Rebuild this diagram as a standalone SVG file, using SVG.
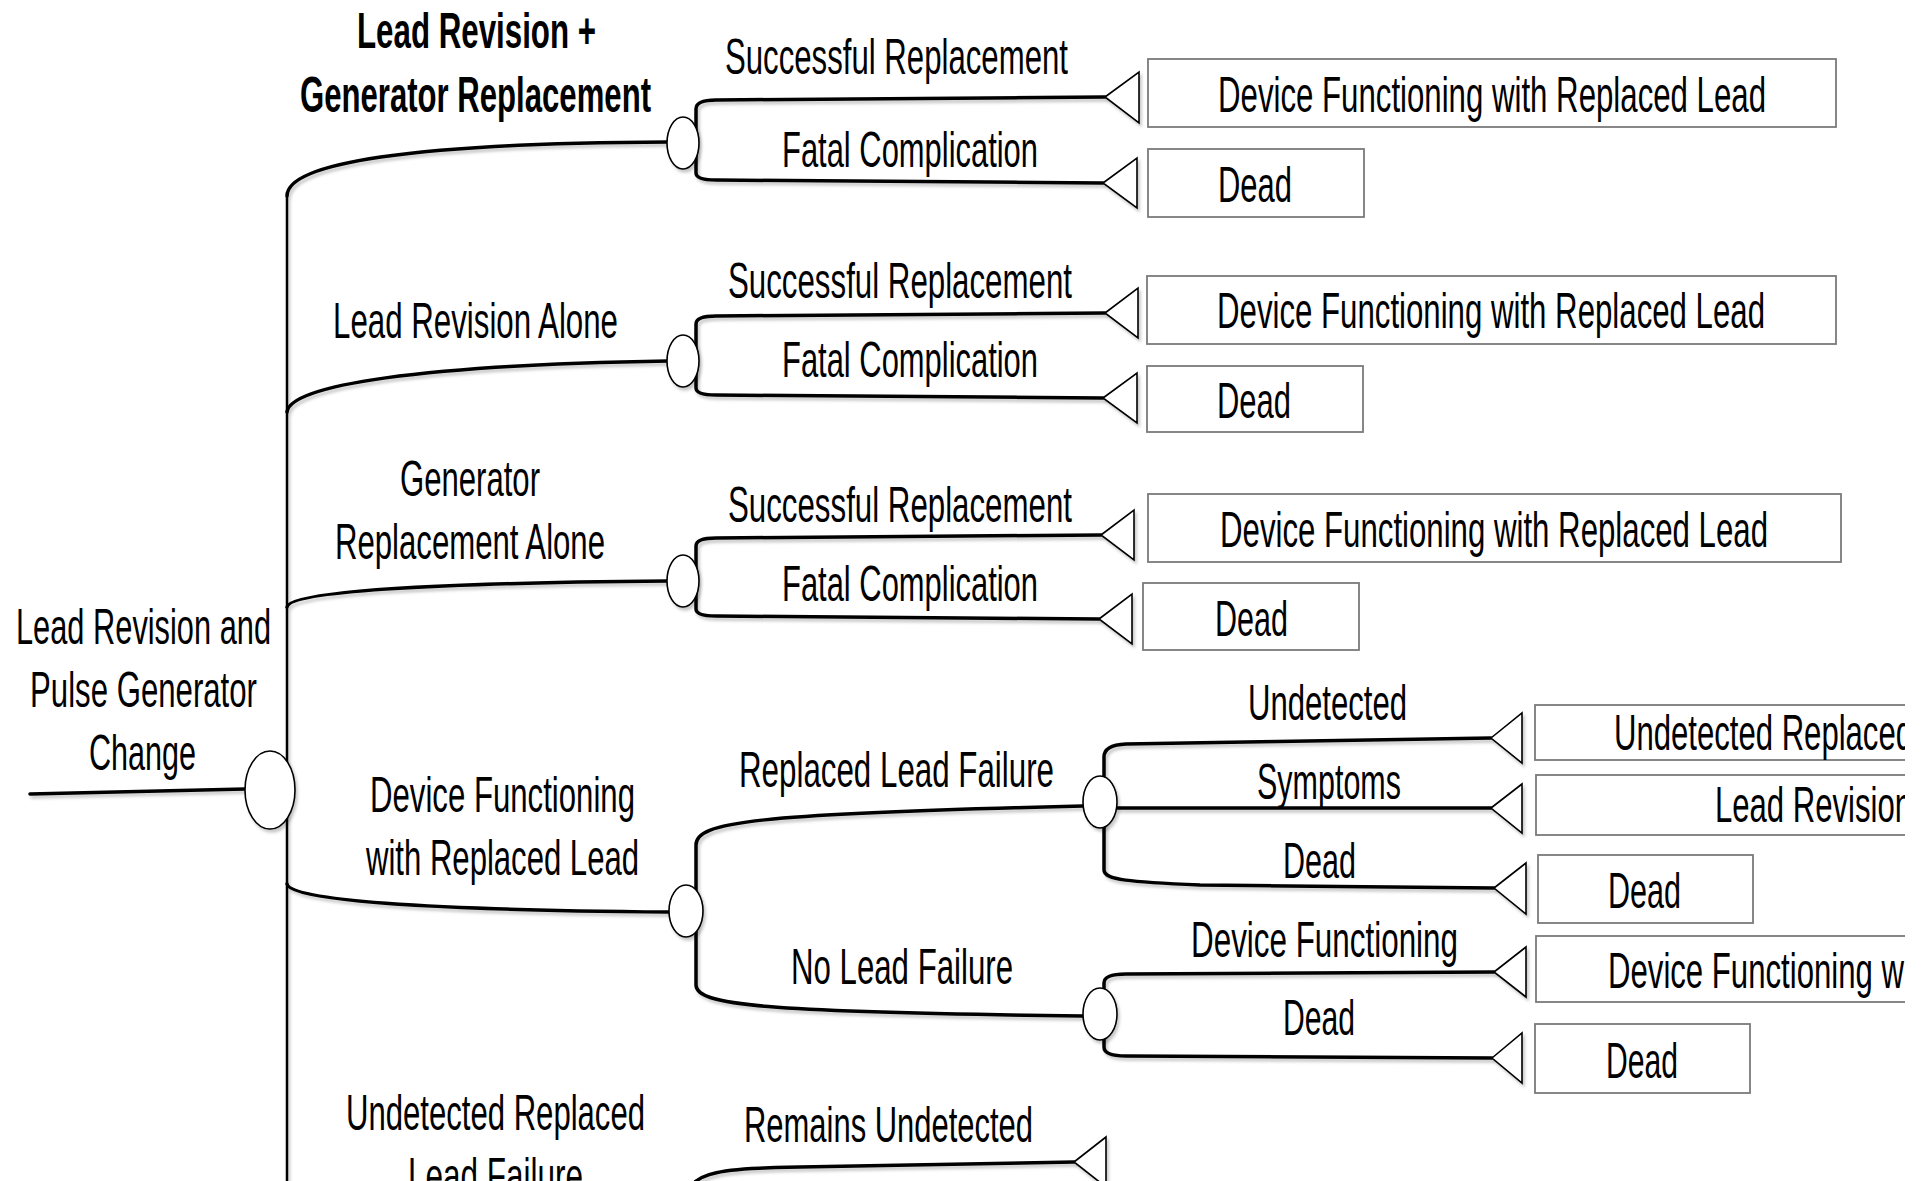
<svg xmlns="http://www.w3.org/2000/svg" width="1932" height="1181" viewBox="0 0 1932 1181">
<style>
  text { font-family: "Liberation Sans", Arial, sans-serif; font-size: 50px; fill: #000; }
  .b { font-weight: bold; }
  .ln { fill: none; stroke: #000; stroke-width: 3.5; stroke-linecap: round; }
  .sp { fill: none; stroke: #000; stroke-width: 2.5; }
  .ch { fill: #fff; stroke: #000; stroke-width: 1.6; }
  .tr { fill: #fff; stroke: #000; stroke-width: 1.6; stroke-linejoin: miter; }
  .bx { fill: #fff; stroke: #7a7a7a; stroke-width: 1.8; }
</style>
<defs>
  <clipPath id="clip"><rect x="0" y="0" width="1905" height="1181"/></clipPath>
  <filter id="sh" filterUnits="userSpaceOnUse" x="0" y="0" width="1932" height="1181">
    <feDropShadow dx="2" dy="3" stdDeviation="1.5" flood-color="#000" flood-opacity="0.22"/>
  </filter>
</defs>
<rect x="0" y="0" width="1932" height="1181" fill="#fff"/>
<g clip-path="url(#clip)">
  <g id="connectors" filter="url(#sh)">
    <path class="ln" d="M30,794 L245,789"/>
    <path class="sp" d="M287,196 V1181"/>
    <path class="ln" d="M287,196 C287,163 410,143 668,142"/>
    <path class="ln" d="M287,412 C290,385 420,365 668,361"/>
    <path class="ln" d="M287,607 C290,592 420,583 668,581"/>
    <path class="ln" d="M287,884 C290,900 420,910 669,912"/>
    <!-- group 1 -->
    <path class="ln" d="M696,143 V109 Q696,100 716,100 L1105,97"/>
    <path class="ln" d="M696,143 V173 Q696,180 716,180 L1103,183"/>
    <!-- group 2 -->
    <path class="ln" d="M696,361 V324 Q696,316 716,316 L1105,313"/>
    <path class="ln" d="M696,361 V388 Q696,395 716,395 L1103,398"/>
    <!-- group 3 -->
    <path class="ln" d="M696,581 V546 Q696,538 716,538 L1101,535"/>
    <path class="ln" d="M696,581 V609 Q696,616 716,616 L1099,619"/>
    <!-- group 4 -->
    <path class="ln" d="M696,911 V845 C696,822 750,814 1083,806"/>
    <path class="ln" d="M696,911 V985 C696,1005 760,1012 1083,1016"/>
    <!-- replaced lead failure -->
    <path class="ln" d="M1104,802 V757 Q1104,745 1126,744 L1491,738"/>
    <path class="ln" d="M1117,808 L1491,808"/>
    <path class="ln" d="M1104,802 V870 C1104,880 1130,882 1200,885 L1494,888"/>
    <!-- no lead failure -->
    <path class="ln" d="M1104,1014 V983 Q1104,974 1126,974 L1494,972"/>
    <path class="ln" d="M1104,1014 V1047 Q1104,1056 1126,1056 L1492,1058"/>
    <!-- group 5 -->
    <path class="ln" d="M689,1195 C689,1172 725,1168 800,1167 L1074,1162"/>
  </g>

  <g id="labels">
    <text class="b" x="357" y="48" textLength="239" lengthAdjust="spacingAndGlyphs">Lead Revision +</text>
    <text class="b" x="300" y="112" textLength="351" lengthAdjust="spacingAndGlyphs">Generator Replacement</text>
    <text x="725" y="74" textLength="343" lengthAdjust="spacingAndGlyphs">Successful Replacement</text>
    <text x="782" y="167" textLength="256" lengthAdjust="spacingAndGlyphs">Fatal Complication</text>
    <text x="333" y="338" textLength="285" lengthAdjust="spacingAndGlyphs">Lead Revision Alone</text>
    <text x="728" y="298" textLength="344" lengthAdjust="spacingAndGlyphs">Successful Replacement</text>
    <text x="782" y="377" textLength="256" lengthAdjust="spacingAndGlyphs">Fatal Complication</text>
    <text x="400" y="496" textLength="140" lengthAdjust="spacingAndGlyphs">Generator</text>
    <text x="335" y="559" textLength="270" lengthAdjust="spacingAndGlyphs">Replacement Alone</text>
    <text x="728" y="522" textLength="344" lengthAdjust="spacingAndGlyphs">Successful Replacement</text>
    <text x="782" y="601" textLength="256" lengthAdjust="spacingAndGlyphs">Fatal Complication</text>
    <text x="16" y="644" textLength="255" lengthAdjust="spacingAndGlyphs">Lead Revision and</text>
    <text x="30" y="707" textLength="227" lengthAdjust="spacingAndGlyphs">Pulse Generator</text>
    <text x="89" y="770" textLength="107" lengthAdjust="spacingAndGlyphs">Change</text>
    <text x="370" y="812" textLength="265" lengthAdjust="spacingAndGlyphs">Device Functioning</text>
    <text x="366" y="875" textLength="273" lengthAdjust="spacingAndGlyphs">with Replaced Lead</text>
    <text x="739" y="787" textLength="315" lengthAdjust="spacingAndGlyphs">Replaced Lead Failure</text>
    <text x="791" y="984" textLength="222" lengthAdjust="spacingAndGlyphs">No Lead Failure</text>
    <text x="1248" y="720" textLength="159" lengthAdjust="spacingAndGlyphs">Undetected</text>
    <text x="1257" y="799" textLength="144" lengthAdjust="spacingAndGlyphs">Symptoms</text>
    <text x="1283" y="878" textLength="73" lengthAdjust="spacingAndGlyphs">Dead</text>
    <text x="1191" y="957" textLength="267" lengthAdjust="spacingAndGlyphs">Device Functioning</text>
    <text x="1283" y="1035" textLength="72" lengthAdjust="spacingAndGlyphs">Dead</text>
    <text x="346" y="1130" textLength="299" lengthAdjust="spacingAndGlyphs">Undetected Replaced</text>
    <text x="408" y="1193" textLength="175" lengthAdjust="spacingAndGlyphs">Lead Failure</text>
    <text x="744" y="1142" textLength="289" lengthAdjust="spacingAndGlyphs">Remains Undetected</text>
  </g>

  <g id="chance-root" filter="url(#sh)"><ellipse class="ch" cx="270" cy="790" rx="25" ry="39"/></g>
  <g id="chance-revision-generator" filter="url(#sh)"><ellipse class="ch" cx="683" cy="143" rx="16" ry="26"/></g>
  <g id="chance-revision-alone" filter="url(#sh)"><ellipse class="ch" cx="683" cy="361" rx="16" ry="26"/></g>
  <g id="chance-generator-alone" filter="url(#sh)"><ellipse class="ch" cx="683" cy="581" rx="16" ry="26"/></g>
  <g id="chance-device-functioning" filter="url(#sh)"><ellipse class="ch" cx="686" cy="911" rx="17" ry="26"/></g>
  <g id="chance-replaced-lead-failure" filter="url(#sh)"><ellipse class="ch" cx="1100" cy="802" rx="17" ry="26"/></g>
  <g id="chance-no-lead-failure" filter="url(#sh)"><ellipse class="ch" cx="1100" cy="1014" rx="17" ry="26"/></g>

  <g id="term-1a" filter="url(#sh)"><polygon class="tr" points="1105,97 1139,72 1139,123"/></g>
  <g id="term-1b" filter="url(#sh)"><polygon class="tr" points="1103,183 1137,158 1137,208"/></g>
  <g id="term-2a" filter="url(#sh)"><polygon class="tr" points="1105,313 1138,288 1138,338"/></g>
  <g id="term-2b" filter="url(#sh)"><polygon class="tr" points="1103,398 1137,373 1137,423"/></g>
  <g id="term-3a" filter="url(#sh)"><polygon class="tr" points="1101,535 1134,510 1134,560"/></g>
  <g id="term-3b" filter="url(#sh)"><polygon class="tr" points="1099,619 1132,594 1132,644"/></g>
  <g id="term-5a" filter="url(#sh)"><polygon class="tr" points="1491,738 1522,713 1522,763"/></g>
  <g id="term-5b" filter="url(#sh)"><polygon class="tr" points="1491,808 1522,784 1522,833"/></g>
  <g id="term-5c" filter="url(#sh)"><polygon class="tr" points="1494,888 1526,863 1526,914"/></g>
  <g id="term-6a" filter="url(#sh)"><polygon class="tr" points="1494,972 1526,947 1526,997"/></g>
  <g id="term-6b" filter="url(#sh)"><polygon class="tr" points="1492,1058 1522,1033 1522,1083"/></g>
  <g id="term-7a" filter="url(#sh)"><polygon class="tr" points="1074,1162 1106,1137 1106,1187"/></g>

  <g id="out-1a"><rect class="bx" x="1148" y="59" width="688" height="68"/><text x="1218" y="112" textLength="548" lengthAdjust="spacingAndGlyphs">Device Functioning with Replaced Lead</text></g>
  <g id="out-1b"><rect class="bx" x="1148" y="149" width="216" height="68"/><text x="1218" y="202" textLength="74" lengthAdjust="spacingAndGlyphs">Dead</text></g>
  <g id="out-2a"><rect class="bx" x="1147" y="276" width="689" height="68"/><text x="1217" y="328" textLength="548" lengthAdjust="spacingAndGlyphs">Device Functioning with Replaced Lead</text></g>
  <g id="out-2b"><rect class="bx" x="1147" y="366" width="216" height="66"/><text x="1217" y="418" textLength="74" lengthAdjust="spacingAndGlyphs">Dead</text></g>
  <g id="out-3a"><rect class="bx" x="1148" y="494" width="693" height="68"/><text x="1220" y="547" textLength="548" lengthAdjust="spacingAndGlyphs">Device Functioning with Replaced Lead</text></g>
  <g id="out-3b"><rect class="bx" x="1143" y="583" width="216" height="67"/><text x="1215" y="636" textLength="73" lengthAdjust="spacingAndGlyphs">Dead</text></g>
  <g id="out-5a"><rect class="bx" x="1535" y="705" width="420" height="55"/><text x="1614" y="750" textLength="299" lengthAdjust="spacingAndGlyphs">Undetected Replaced</text></g>
  <g id="out-5b"><rect class="bx" x="1536" y="775" width="420" height="60"/><text x="1715" y="822" textLength="197" lengthAdjust="spacingAndGlyphs">Lead Revision</text></g>
  <g id="out-5c"><rect class="bx" x="1538" y="855" width="215" height="68"/><text x="1608" y="908" textLength="73" lengthAdjust="spacingAndGlyphs">Dead</text></g>
  <g id="out-6a"><rect class="bx" x="1536" y="936" width="420" height="66"/><text x="1608" y="988" textLength="296" lengthAdjust="spacingAndGlyphs">Device Functioning w</text></g>
  <g id="out-6b"><rect class="bx" x="1535" y="1024" width="215" height="69"/><text x="1606" y="1078" textLength="72" lengthAdjust="spacingAndGlyphs">Dead</text></g>
</g>
</svg>
